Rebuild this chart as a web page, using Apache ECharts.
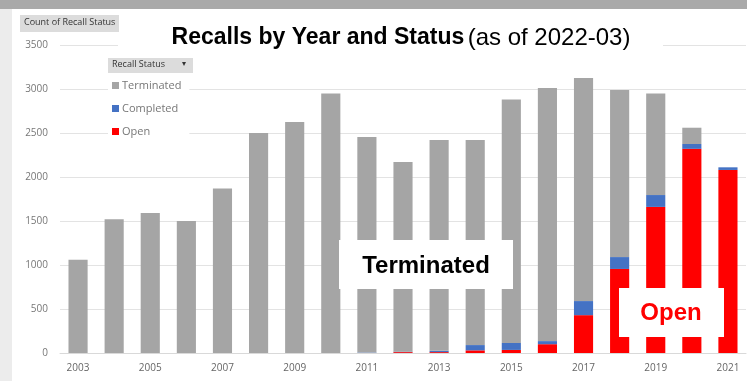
<!DOCTYPE html>
<html><head><meta charset="utf-8">
<script src="https://cdn.jsdelivr.net/npm/echarts@6/dist/echarts.min.js"></script>
<style>html,body{margin:0;padding:0;background:#fff}#c{width:747px;height:381px}</style>
</head><body><div id="c"></div>
<script>
var years = ['2003','2004','2005','2006','2007','2008','2009','2010','2011','2012','2013','2014','2015','2016','2017','2018','2019','2020','2021'];
var openVals =       [0,0,0,0,0,0,0,0,0,10,10,30,35,100,430,955,1660,2320,2080];
var completedVals =  [0,0,0,0,0,0,0,0,5,5,15,60,80,35,160,135,135,55,30];
var terminatedVals = [1060,1520,1590,1500,1870,2500,2625,2950,2450,2155,2395,2330,2765,2875,2535,1900,1155,185,0];
var yTicks = [0,500,1000,1500,2000,2500,3000,3500];

var chart = echarts.init(document.getElementById('c'));
var font = '"Open Sans", "Liberation Sans", sans-serif';
var arial = '"Liberation Sans", Arial, sans-serif';
chart.setOption({
  animation: false,
  backgroundColor: '#ffffff',
  grid: {left: 60, right: 1, top: 45, bottom: 28},
  xAxis: {
    type: 'category', data: years,
    axisTick: {show: false},
    axisLine: {lineStyle: {color: '#d9d9d9'}},
    axisLabel: {interval: 1, color: '#666', fontSize: 10, fontFamily: font, margin: 10}
  },
  yAxis: {
    type: 'value', min: yTicks[0], max: yTicks[yTicks.length-1], interval: 500,
    axisLine: {show: false}, axisTick: {show: false},
    axisLabel: {color: '#777', fontSize: 10, fontFamily: font, margin: 12, formatter: function(v){return String(v);}},
    splitLine: {lineStyle: {color: '#e3e3e3'}}
  },
  legend: {
    orient: 'vertical', left: 108, top: 77,
    data: ['Terminated','Completed','Open'],
    icon: 'rect', itemWidth: 7, itemHeight: 7, itemGap: 12,
    backgroundColor: '#fff', padding: [3, 8, 3, 4],
    textStyle: {color: '#777', fontSize: 11, fontFamily: font, padding: [0,0,0,-2]}
  },
  series: [
    {name: 'Open', type: 'bar', stack: 's', data: openVals, barWidth: '53%', itemStyle: {color: '#ff0000'}},
    {name: 'Completed', type: 'bar', stack: 's', data: completedVals, itemStyle: {color: '#4472c4'}},
    {name: 'Terminated', type: 'bar', stack: 's', data: terminatedVals, itemStyle: {color: '#a5a5a5'}}
  ],
  graphic: [
    {type: 'rect', left: 0, top: 0, shape: {width: 747, height: 9}, style: {fill: '#a9a9a9'}, z: 1},
    {type: 'rect', left: 0, top: 9, shape: {width: 12, height: 372}, style: {fill: '#ececec'}, z: 1},
    {type: 'rect', left: 118, top: 18, shape: {width: 545, height: 40}, style: {fill: '#fff'}, z: 5},
    {type: 'text', z: 6,
      style: {x: 401, y: 38, textAlign: 'center', textVerticalAlign: 'middle',
        text: '{b|Recalls by Year and Status} {n|(as of 2022-03)}', rich: {
        b: {fontSize: 23, fontWeight: 'bold', fontFamily: arial, fill: '#000'},
        n: {fontSize: 24, fontFamily: arial, fill: '#000'}
      }}},
    {type: 'rect', left: 20, top: 15, shape: {width: 99, height: 17}, style: {fill: '#dcdcdc'}, z: 6},
    {type: 'text', left: 24, top: 18, z: 7, style: {text: 'Count of Recall Status', fontSize: 9, fill: '#333', fontFamily: font}},
    {type: 'rect', left: 108, top: 58, shape: {width: 85, height: 15}, style: {fill: '#dcdcdc'}, z: 6},
    {type: 'text', left: 112, top: 60, z: 7, style: {text: 'Recall Status', fontSize: 9, fill: '#333', fontFamily: font}},
    {type: 'text', left: 182, top: 60, z: 7, style: {text: '▾', fontSize: 8, fill: '#333', fontFamily: font}},
    {type: 'rect', left: 339, top: 240, shape: {width: 174, height: 49}, style: {fill: '#fff'}, z: 10},
    {type: 'text', z: 11, style: {x: 426, y: 266, textAlign: 'center', textVerticalAlign: 'middle', text: 'Terminated', fontSize: 24, fontWeight: 'bold', fill: '#000', fontFamily: arial}},
    {type: 'rect', left: 619, top: 288, shape: {width: 105, height: 49}, style: {fill: '#fff'}, z: 10},
    {type: 'text', z: 11, style: {x: 671, y: 313, textAlign: 'center', textVerticalAlign: 'middle', text: 'Open', fontSize: 24, fontWeight: 'bold', fill: '#ff0000', fontFamily: arial}}
  ]
});
</script></body></html>
